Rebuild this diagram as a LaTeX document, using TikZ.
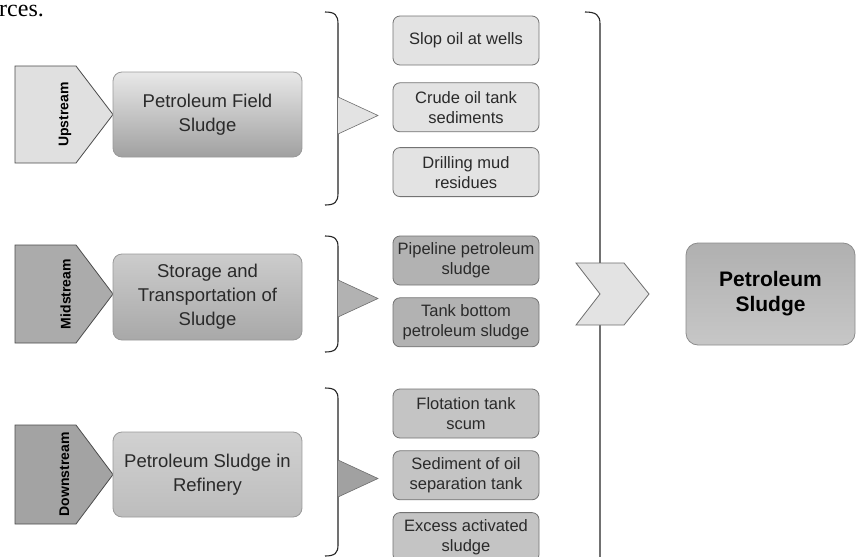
\documentclass[tikz,border=0pt]{standalone}
\usepackage{fontspec}
\setmainfont{Liberation Sans}
\newfontfamily\captionfont{Liberation Serif}
\usetikzlibrary{positioning}

\definecolor{inkgray}{HTML}{2A2A2A}
\definecolor{edgegray}{HTML}{6E6E6E}

\tikzset{
  stage/.style={draw=black!70, line width=0.8pt, fill=#1},
  stagelabel/.style={rotate=90, text=black, font=\bfseries\fontsize{14}{16}\selectfont},
  mainbox/.style 2 args={draw=black!40, line width=0.8pt, rounded corners=9pt,
    minimum width=189pt, minimum height=85pt, align=center, text=inkgray,
    font=\fontsize{18.5}{24}\selectfont, top color=#1, bottom color=#2},
  sourcebox/.style={draw=black!55, line width=0.8pt, rounded corners=7pt, fill=#1,
    minimum width=146pt, minimum height=49pt, align=center, text=inkgray,
    inner sep=1pt, font=\fontsize{16.5}{20}\selectfont},
  bracket/.style={draw=black!85, line width=1.1pt},
  pointer/.style={draw=edgegray, line width=0.6pt, fill=#1},
}

\begin{document}
\begin{tikzpicture}[x=1pt, y=-1pt]
  \clip (0,0) rectangle (857,557);
  \fill[white] (0,0) rectangle (857,557);

  % caption remnant
  \node[anchor=base west, inner sep=0pt, text=black,
    font=\captionfont\fontsize{24}{24}\selectfont] (capt) at (-1,16) {rces.};

  % stages
  \draw[stage=black!12] (15,66) -- (76,66) -- (113,114.5) -- (76,163) -- (15,163) -- cycle;
  \node[stagelabel] (up) at (65,114.5) {Upstream};
  \draw[stage=black!33] (15,245) -- (76,245) -- (113,294) -- (76,343) -- (15,343) -- cycle;
  \node[stagelabel] (mid) at (65.5,294) {Midstream};
  \draw[stage=black!36] (15,425) -- (76,425) -- (113,474.5) -- (76,524) -- (15,524) -- cycle;
  \node[stagelabel] (down) at (64.5,474.5) {Downstream};

  \node[mainbox={black!9}{black!37}] (field) at (207.5,114.5) {Petroleum Field\\Sludge};
  \node[mainbox={black!20}{black!34}, minimum height=86pt] (storage) at (207.5,297)
    {Storage and\\Transportation of\\Sludge};
  \node[mainbox={black!18}{black!26}] (refinery) at (207.5,474.5) {Petroleum Sludge in\\Refinery};

  % braces
  \draw[bracket] (325,12) .. controls (335,12) and (338,15) .. (338,24)
    -- (338,193) .. controls (338,202) and (335,205) .. (325,205);
  \draw[pointer=black!11] (338,97) -- (378,115.5) -- (338,134);
  \draw[bracket] (325,236) .. controls (335,236) and (338,239) .. (338,247)
    -- (338,341) .. controls (338,349) and (335,352) .. (325,352);
  \draw[pointer=black!30] (338,280) -- (378,298.5) -- (338,317);
  \draw[bracket] (325,388) .. controls (335,388) and (338,391) .. (338,399)
    -- (338,545) .. controls (338,553) and (335,556) .. (325,556);
  \draw[pointer=black!37] (338,460) -- (378,478.5) -- (338,497);

  % sources
  \node[sourcebox=black!11] (slop) at (466,40.5) {Slop oil at wells};
  \node[sourcebox=black!11, below=17pt of slop] (crude) {Crude oil tank\\sediments};
  \node[sourcebox=black!11, below=15pt of crude] (mud) {Drilling mud\\residues};
  \node[sourcebox=black!30] (pipe) at (466,260.5) {Pipeline petroleum\\sludge};
  \node[sourcebox=black!30, below=12pt of pipe] (tank) {Tank bottom\\petroleum sludge};
  \node[sourcebox=black!23] (flot) at (466,413.5) {Flotation tank\\scum};
  \node[sourcebox=black!23, below=12pt of flot] (sedi) {Sediment of oil\\separation tank};
  \node[sourcebox=black!23, below=12pt of sedi] (excess) {Excess activated\\sludge};

  % big bracket and chevron
  \draw[bracket] (585,12) .. controls (596,12) and (600,15) .. (600,24) -- (600,560);
  \draw[pointer=black!11, line width=0.8pt] (576,263) -- (624,263) -- (649,294)
    -- (624,325) -- (576,325) -- (600,294) -- cycle;

  \node[draw=black!45, line width=0.8pt, rounded corners=12pt, top color=black!31,
    bottom color=black!22, minimum width=169pt, minimum height=102pt, align=center,
    text=black, font=\bfseries\fontsize{21}{25}\selectfont] (total) at (770.5,294)
    {Petroleum\\Sludge};
\end{tikzpicture}
\end{document}
